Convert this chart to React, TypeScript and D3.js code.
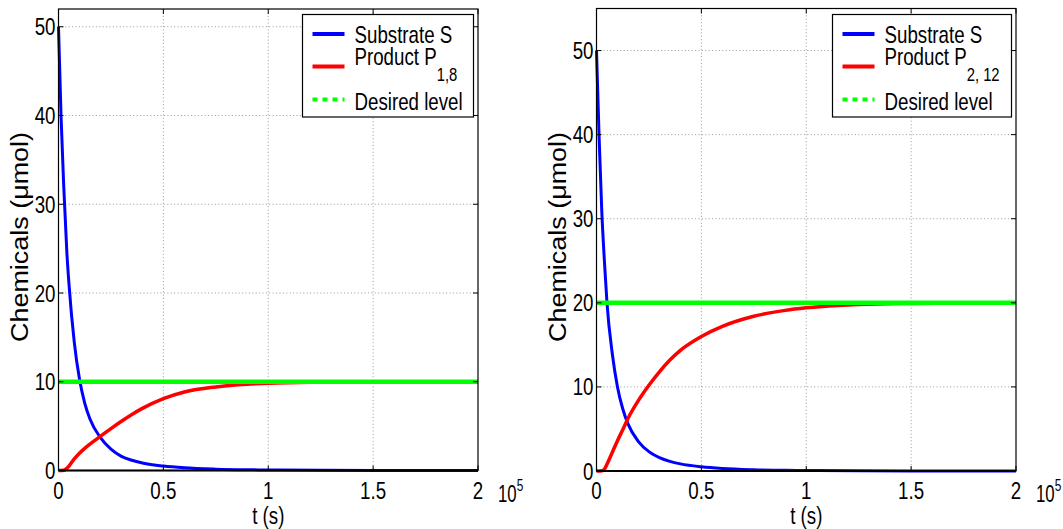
import React from "react";
import * as d3 from "d3";

// time axis (units of 1e5 s)
const time = [0, 0.012, 0.025, 0.04, 0.05, 0.075, 0.1, 0.125, 0.15, 0.2, 0.25, 0.3, 0.35, 0.4, 0.5, 0.6, 0.75, 0.9, 1.0, 1.25, 1.5, 1.75, 2.0];

// left panel: P_{1,8}
const leftS = [50, 40, 32, 24.5, 21, 14.5, 10.3, 7.6, 5.8, 3.7, 2.4, 1.6, 1.15, 0.85, 0.5, 0.3, 0.15, 0.08, 0.06, 0.025, 0.01, 0.005, 0];
const leftP = [0, 0, 0.02, 0.24, 0.5, 1.3, 1.95, 2.5, 2.98, 3.85, 4.72, 5.55, 6.32, 7.0, 8.1, 8.85, 9.42, 9.72, 9.83, 9.95, 9.99, 10, 10];
const leftDesired = 10;

// right panel: P_{2,12}
const rightS = [50, 40, 31, 24, 20, 14, 10, 7.4, 5.6, 3.5, 2.3, 1.6, 1.15, 0.85, 0.5, 0.3, 0.15, 0.08, 0.06, 0.025, 0.01, 0.005, 0];
const rightP = [0, 0, 0.02, 0.3, 0.8, 2.2, 3.6, 4.9, 6.25, 8.4, 10.2, 11.8, 13.2, 14.35, 16.0, 17.2, 18.4, 19.1, 19.4, 19.8, 19.93, 19.98, 20];
const rightDesired = 20;

const xTicks = [0, 0.5, 1, 1.5, 2];
const yTicks = [0, 10, 20, 30, 40, 50];
const legendLabels = ["Substrate S", "Product P", "Desired level"];

const FONT = "'Liberation Sans', Arial, sans-serif";
const SQ = 0.78; // horizontal squeeze, the source font is condensed

type TProps = {
  x: number;
  y: number;
  size?: number;
  sq?: number;
  anchor?: "start" | "middle" | "end";
  children: React.ReactNode;
};

// condensed text
function T({ x, y, size = 24, sq = SQ, anchor = "start", children }: TProps) {
  return (
    <text
      transform={`translate(${x},${y}) scale(${sq},1)`}
      textAnchor={anchor}
      fontSize={size}
      fontFamily={FONT}
      fill="#000"
    >
      {children}
    </text>
  );
}

type PanelProps = {
  left: number;
  right: number;
  top: number;
  bottom: number;
  yMax: number;
  S: number[];
  P: number[];
  desired: number;
  sub: string;
  legendX: number;
  legendW: number;
};

function Panel({ left, right, top, bottom, yMax, S, P, desired, sub, legendX, legendW }: PanelProps) {
  const x = d3.scaleLinear().domain([0, 2]).range([left, right]);
  const y = d3.scaleLinear().domain([0, yMax]).range([bottom, top]);

  const line = d3
    .line<number>()
    .x((_, i) => x(time[i]))
    .y((d) => y(d))
    .curve(d3.curveMonotoneX);

  const tick = 5;
  const midX = (left + right) / 2;

  const legTop = 14.5;
  const legBottom = 117;
  const rows = [34, 66.5, 99.5];

  return (
    <g>
      {/* grid */}
      {xTicks.slice(1, -1).map((t) => (
        <line key={"gx" + t} x1={x(t)} x2={x(t)} y1={top} y2={bottom} stroke="#999" strokeWidth={1} strokeDasharray="1,2.4" />
      ))}
      {yTicks.slice(1).map((t) => (
        <line key={"gy" + t} x1={left} x2={right} y1={y(t)} y2={y(t)} stroke="#999" strokeWidth={1} strokeDasharray="1,2.4" />
      ))}

      {/* data */}
      <path d={line(S) ?? ""} fill="none" stroke="#0000ff" strokeWidth={3} />
      <path d={line(P) ?? ""} fill="none" stroke="#ff0000" strokeWidth={3.5} />
      <line x1={x(0)} x2={x(2)} y1={y(desired)} y2={y(desired)} stroke="#00ff00" strokeWidth={4.5} />

      {/* box */}
      <rect x={left} y={top} width={right - left} height={bottom - top} fill="none" stroke="#000" strokeWidth={1.2} />
      <line x1={left} x2={right} y1={bottom} y2={bottom} stroke="#000" strokeWidth={2} />

      {/* ticks */}
      {xTicks.map((t) => (
        <g key={"tx" + t}>
          <line x1={x(t)} x2={x(t)} y1={bottom} y2={bottom - tick} stroke="#000" />
          <line x1={x(t)} x2={x(t)} y1={top} y2={top + tick} stroke="#000" />
          <T x={x(t)} y={499} anchor="middle">
            {t}
          </T>
        </g>
      ))}
      {yTicks.map((t) => (
        <g key={"ty" + t}>
          <line x1={left} x2={left + tick} y1={y(t)} y2={y(t)} stroke="#000" />
          <line x1={right} x2={right - tick} y1={y(t)} y2={y(t)} stroke="#000" />
          <T x={left - 3} y={y(t) + 8.5} anchor="end">
            {t}
          </T>
        </g>
      ))}

      {/* exponent */}
      <T x={right + 20} y={502} size={24} sq={0.7}>
        10
        <tspan dy={-11} fontSize={17}>5</tspan>
      </T>

      {/* axis labels */}
      <T x={midX} y={524} anchor="middle">
        t (s)
      </T>
      <text
        transform={`translate(${left - 31},237) rotate(-90)`}
        textAnchor="middle"
        fontSize={23}
        fontFamily={FONT}
        fill="#000"
        textLength={210}
        lengthAdjust="spacingAndGlyphs"
      >
        Chemicals (μmol)
      </text>

      {/* legend */}
      <rect x={legendX} y={legTop} width={legendW} height={legBottom - legTop} fill="#fff" stroke="#000" strokeWidth={1.2} />
      <line x1={legendX + 10} x2={legendX + 42} y1={rows[0]} y2={rows[0]} stroke="#0000ff" strokeWidth={4} />
      <line x1={legendX + 10} x2={legendX + 42} y1={rows[1]} y2={rows[1]} stroke="#ff0000" strokeWidth={4} />
      <line x1={legendX + 10} x2={legendX + 42} y1={rows[2]} y2={rows[2]} stroke="#00ff00" strokeWidth={4} strokeDasharray="5,5" />
      <T x={legendX + 52} y={42.5}>
        {legendLabels[0]}
      </T>
      <T x={legendX + 52} y={65}>
        {legendLabels[1]}
        <tspan dy={16} fontSize={19}>{sub}</tspan>
      </T>
      <T x={legendX + 52} y={110}>
        {legendLabels[2]}
      </T>
    </g>
  );
}

export default function App() {
  return (
    <div style={{ position: "absolute", left: 0, top: 0 }}>
      <svg width={1063} height={529} style={{ display: "block", background: "#fff" }}>
        <Panel
          left={58.5}
          right={478}
          top={9}
          bottom={470.5}
          yMax={52}
          S={leftS}
          P={leftP}
          desired={leftDesired}
          sub="1,8"
          legendX={302.5}
          legendW={171}
        />
        <Panel
          left={596.5}
          right={1016}
          top={8.5}
          bottom={471}
          yMax={55}
          S={rightS}
          P={rightP}
          desired={rightDesired}
          sub="2, 12"
          legendX={832.5}
          legendW={179}
        />
      </svg>
    </div>
  );
}
